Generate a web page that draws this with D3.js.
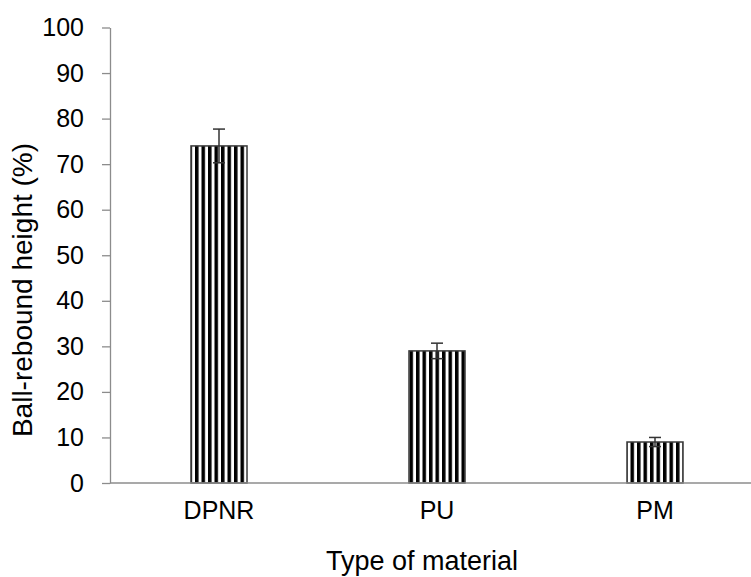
<!DOCTYPE html>
<html>
<head>
<meta charset="utf-8">
<script src="https://cdn.jsdelivr.net/npm/d3@7"></script>
<style>
  body { margin: 0; background: #fff; }
  svg text { font-family: "Liberation Sans", Arial, sans-serif; fill: #000; }
</style>
</head>
<body>
<div class="chartDiv"></div>
<script>
var categories = ["DPNR", "PU", "PM"];
var values = [74, 29, 9];
var errors = [3.7, 1.7, 1.0];
var yTicks = [0, 10, 20, 30, 40, 50, 60, 70, 80, 90, 100];

var width = 751, height = 577;
var margin = { top: 27.5, left: 110, bottom: 94 };

var svg = d3.select('.chartDiv').append('svg')
    .attr('width', width)
    .attr('height', height);

// vertical stripe fill
var pat = svg.append('defs').append('pattern')
    .attr('id', 'stripes')
    .attr('patternUnits', 'userSpaceOnUse')
    .attr('width', 6.5)
    .attr('height', 10);
pat.append('rect').attr('width', 6.5).attr('height', 10).attr('fill', '#fff');
pat.append('rect').attr('width', 3.5).attr('height', 10).attr('fill', '#000');

var x = d3.scaleBand()
    .domain(categories)
    .range([margin.left, margin.left + 654])
    .paddingInner(0.743)
    .paddingOuter(0.3715);

var y = d3.scaleLinear()
    .domain([0, 100])
    .range([height - margin.bottom, margin.top]);

// y axis
var yAxis = svg.append('g')
    .attr('transform', 'translate(' + margin.left + ',0)')
    .call(d3.axisLeft(y).tickValues(yTicks).tickSize(8).tickPadding(18).tickSizeOuter(0));
yAxis.select('.domain').attr('stroke', '#8c8c8c').attr('stroke-width', 1.3);
yAxis.selectAll('.tick line').attr('stroke', '#8c8c8c').attr('stroke-width', 1.3);
yAxis.selectAll('.tick text').style('font-size', '25px').attr('font-family', null);

// bars
svg.selectAll('.bar')
    .data(values)
    .enter().append('rect')
    .attr('class', 'bar')
    .attr('x', function(d, i) { return x(categories[i]); })
    .attr('y', function(d) { return y(d); })
    .attr('width', x.bandwidth())
    .attr('height', function(d) { return y(0) - y(d); })
    .attr('fill', 'url(#stripes)')
    .attr('stroke', '#3a3a3a')
    .attr('stroke-width', 1.5);

// x axis line
svg.append('line')
    .attr('x1', margin.left).attr('x2', width)
    .attr('y1', y(0)).attr('y2', y(0))
    .attr('stroke', '#8c8c8c')
    .attr('stroke-width', 1.5);

// error bars
var err = svg.selectAll('.err')
    .data(values)
    .enter().append('g')
    .attr('class', 'err')
    .attr('transform', function(d, i) { return 'translate(' + (x(categories[i]) + x.bandwidth() / 2) + ',0)'; });
err.append('line')
    .attr('y1', function(d, i) { return y(d + errors[i]); })
    .attr('y2', function(d, i) { return y(d - errors[i]); })
    .attr('stroke', '#333').attr('stroke-width', 1.5);
err.append('line')
    .attr('x1', -6).attr('x2', 6)
    .attr('y1', function(d, i) { return y(d + errors[i]); })
    .attr('y2', function(d, i) { return y(d + errors[i]); })
    .attr('stroke', '#333').attr('stroke-width', 1.5);
err.append('line')
    .attr('x1', -6).attr('x2', 6)
    .attr('y1', function(d, i) { return y(d - errors[i]); })
    .attr('y2', function(d, i) { return y(d - errors[i]); })
    .attr('stroke', '#333').attr('stroke-width', 1.5);

// category labels
svg.selectAll('.cat')
    .data(categories)
    .enter().append('text')
    .attr('class', 'cat')
    .attr('x', function(d) { return x(d) + x.bandwidth() / 2; })
    .attr('y', y(0) + 36)
    .attr('text-anchor', 'middle')
    .style('font-size', '25px')
    .text(function(d) { return d; });

// axis titles
svg.append('text')
    .attr('x', 422)
    .attr('y', 570)
    .attr('text-anchor', 'middle')
    .style('font-size', '27px')
    .text('Type of material');

svg.append('text')
    .attr('transform', 'translate(32,' + 290 + ') rotate(-90)')
    .attr('text-anchor', 'middle')
    .style('font-size', '28px')
    .text('Ball-rebound height (%)');
</script>
</body>
</html>
